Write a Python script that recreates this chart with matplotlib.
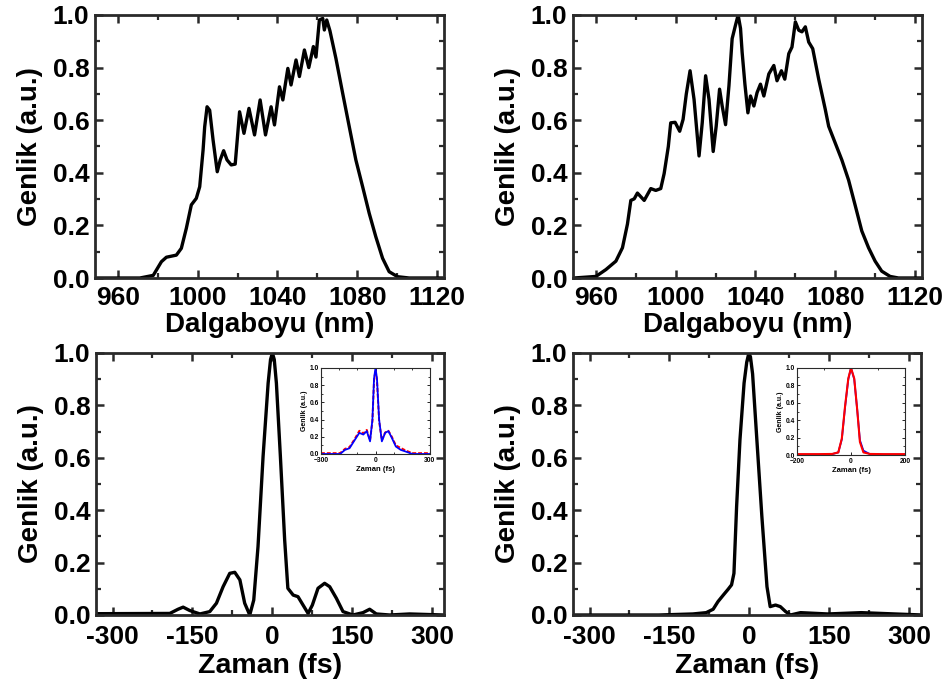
import numpy as np
import matplotlib
matplotlib.use("Agg")
import matplotlib.pyplot as plt
from matplotlib.ticker import MultipleLocator

plt.rcParams['font.family'] = ['Liberation Sans', 'DejaVu Sans']
plt.rcParams['font.weight'] = 'bold'

# ---------------- data ----------------
spec1_nm = [948, 971, 977.7, 981.8, 984.3, 989.3, 991.8, 994.3, 996.8, 999.3, 1001, 1002.7, 1003.5,
            1004.7, 1006, 1007.7, 1009.8, 1011.3, 1013, 1014.7, 1016.8, 1018.8, 1021, 1023.2, 1025.7,
            1028.5, 1031.3, 1034, 1036.8, 1038.5, 1041, 1042.7, 1045.2, 1046.8, 1049.3, 1051, 1053.5,
            1055.7, 1058, 1059.3, 1061, 1062.7, 1063.5, 1064.7, 1066.3, 1069.3, 1072.7, 1076, 1079.3,
            1082.7, 1086, 1089.3, 1092.7, 1096, 1100.2, 1106, 1123]
spec1_amp = [0, 0, 0.01, 0.062, 0.079, 0.087, 0.113, 0.189, 0.278, 0.303, 0.347, 0.487, 0.575,
             0.651, 0.638, 0.525, 0.404, 0.449, 0.484, 0.449, 0.43, 0.433, 0.632, 0.55, 0.645,
             0.544, 0.677, 0.544, 0.651, 0.582, 0.727, 0.677, 0.797, 0.734, 0.829, 0.766, 0.867,
             0.80, 0.88, 0.84, 0.981, 0.987, 0.943, 0.981, 0.94, 0.835, 0.702, 0.575, 0.449,
             0.347, 0.246, 0.157, 0.075, 0.024, 0.005, 0, 0]

spec2_nm = [949, 960, 965, 970, 973.3, 975.8, 977.5, 979.2, 980.8, 984.2, 987.5, 990, 992.5, 994.2,
            996.3, 997.5, 999.7, 1002, 1003.7, 1005.3, 1007.2, 1009.2, 1011.7, 1013.3, 1015, 1016.7,
            1018.8, 1020.3, 1022, 1023.3, 1025, 1026.7, 1028.3, 1030, 1031.3, 1032.5, 1033.3, 1034.7,
            1036.2, 1037.5, 1039.2, 1040.8, 1042.5, 1044.2, 1046.7, 1049.2, 1050.8, 1053, 1054.7,
            1056.7, 1058.3, 1060, 1061.7, 1063.3, 1065, 1066.7, 1068.7, 1071.7, 1075, 1076.7, 1080,
            1083.3, 1086.7, 1090, 1093.3, 1096.7, 1100, 1103.3, 1107.5, 1111.7, 1124]
spec2_amp = [0, 0.006, 0.032, 0.064, 0.115, 0.205, 0.295, 0.301, 0.323, 0.295, 0.34, 0.333, 0.34, 0.397,
             0.5, 0.59, 0.592, 0.558, 0.603, 0.699, 0.788, 0.679, 0.464, 0.59, 0.769, 0.679,
             0.481, 0.577, 0.718, 0.654, 0.583, 0.731, 0.91, 0.962, 1.0, 0.949, 0.859, 0.737,
             0.628, 0.692, 0.654, 0.705, 0.737, 0.692, 0.776, 0.808, 0.75, 0.788, 0.756,
             0.853, 0.878, 0.974, 0.942, 0.936, 0.955, 0.897, 0.872, 0.756, 0.641, 0.577, 0.513,
             0.449, 0.372, 0.276, 0.179, 0.115, 0.064, 0.026, 0.006, 0, 0]

pulse1_t = [-330, -192.5, -177, -167.5, -155, -136, -117.5, -105, -92.5, -80, -70.6, -61, -52, -42.5,
            -35, -27, -17.5, -8, -3.5, 0, 3.5, 7.5, 15, 23, 29, 39, 48, 57.5, 67, 75, 85.6, 98, 107.5,
            120, 132.5, 151, 170, 182.5, 195, 220, 257.5, 322]
pulse1_amp = [0.005, 0.006, 0.022, 0.03, 0.017, 0.004, 0.013, 0.045, 0.108, 0.159, 0.163, 0.134, 0.045, 0.0,
              0.057, 0.261, 0.605, 0.885, 0.975, 1.0, 0.975, 0.885, 0.605, 0.287, 0.102, 0.076, 0.07, 0.038,
              0.006, 0.038, 0.102, 0.121, 0.108, 0.064, 0.013, 0, 0.009, 0.022, 0.004, 0, 0.004, 0]

pulse2_t = [-334, -170, -106, -81, -68, -59, -49, -40, -33.5, -29, -24, -17.7, -10, -5, -1, 2, 6, 14,
            23.4, 33, 39, 49, 58, 68, 77, 96, 147, 210, 273, 325]
pulse2_amp = [0, 0, 0.004, 0.009, 0.022, 0.051, 0.076, 0.098, 0.115, 0.159, 0.414, 0.669, 0.885, 0.965,
              1.0, 0.985, 0.92, 0.669, 0.376, 0.108, 0.032, 0.038, 0.032, 0.013, 0, 0.009, 0.004, 0.009,
              0.004, 0]

inset1_t = [-300, -287, -195, -168, -143, -113, -89, -67, -48, -30, -17, -8, 0, 8, 20, 35, 53, 71, 90,
            112, 139, 167, 203, 287, 300]
inset1_blue = [0, 0, 0.0, 0.048, 0.067, 0.167, 0.246, 0.226, 0.266, 0.147, 0.40, 0.88, 1.0, 0.88, 0.40,
               0.147, 0.246, 0.266, 0.187, 0.087, 0.048, 0.028, 0, 0, 0]
inset1_red = [0.01, 0.01, 0.01, 0.06, 0.08, 0.18, 0.27, 0.24, 0.28, 0.16, 0.38, 0.86, 0.97, 0.86, 0.38,
              0.16, 0.25, 0.27, 0.2, 0.1, 0.07, 0.04, 0.01, 0.01, 0.01]

inset2_t = [-200, -120, -70, -47, -34, -22, -10, 0, 12, 23, 33, 46, 70, 120, 200]
inset2_blue = [0.005, 0.005, 0.01, 0.03, 0.18, 0.55, 0.87, 1.0, 0.87, 0.52, 0.17, 0.05, 0.01, 0.005, 0.005]
inset2_red = [0.01, 0.01, 0.012, 0.03, 0.19, 0.56, 0.88, 1.0, 0.88, 0.52, 0.15, 0.03, 0.012, 0.01, 0.01]

spec_ticks = [960, 1000, 1040, 1080, 1120]
time_ticks = [-300, -150, 0, 150, 300]
y_ticks = [0.0, 0.2, 0.4, 0.6, 0.8, 1.0]

# ---------------- figure ----------------
fig = plt.figure(figsize=(9.52, 6.86), dpi=100)
W, H = 952, 686

def rect(l, t, r, b):
    return [l / W, 1 - b / H, (r - l) / W, (b - t) / H]

FS_TICK = 19
FS_LAB = 20
SPINE = '#2a2a2a'

def style(ax, xmaj, xmin, fs=FS_TICK, lw=2.0, ml=6, mn=3.5, pad=5):
    for s in ax.spines.values():
        s.set_linewidth(lw)
        s.set_color(SPINE)
    ax.xaxis.set_major_locator(MultipleLocator(xmaj))
    ax.xaxis.set_minor_locator(MultipleLocator(xmin))
    ax.yaxis.set_major_locator(MultipleLocator(0.2))
    ax.yaxis.set_minor_locator(MultipleLocator(0.1))
    ax.tick_params(which='both', direction='in', top=True, right=True, color=SPINE)
    ax.tick_params(which='major', length=ml, width=lw * 0.9, labelsize=fs, pad=pad)
    ax.tick_params(which='minor', length=mn, width=lw * 0.8)

ax1 = fig.add_axes(rect(95, 15, 444, 278))
ax2 = fig.add_axes(rect(573, 15, 922, 278))
ax3 = fig.add_axes(rect(96, 353, 444, 615))
ax4 = fig.add_axes(rect(573, 353, 921, 615))

LW = 2.4
for ax, x, y in ((ax1, spec1_nm, spec1_amp), (ax2, spec2_nm, spec2_amp),
                 (ax3, pulse1_t, pulse1_amp), (ax4, pulse2_t, pulse2_amp)):
    ax.plot(x, y, color='black', lw=LW, solid_joinstyle='round', solid_capstyle='round')

for ax in (ax1, ax2):
    ax.set_xlim(948.5, 1123.5)
    ax.set_ylim(0, 1.0)
    style(ax, 40, 20, pad=6)
    ax.set_xticks(spec_ticks)
    ax.set_xticklabels([str(v) for v in spec_ticks], fontweight='bold')
    ax.set_xlabel('Dalgaboyu (nm)', fontsize=FS_LAB, fontweight='bold', labelpad=1)

for ax in (ax3, ax4):
    ax.set_xlim(-331, 322)
    ax.set_ylim(0, 1.0)
    style(ax, 150, 75, pad=7)
    ax.set_xticks(time_ticks)
    ax.set_xticklabels([str(v) for v in time_ticks], fontweight='bold')
    ax.set_xlabel('Zaman (fs)', fontsize=FS_LAB + 0.5, fontweight='bold', labelpad=3)

for ax in (ax1, ax2, ax3, ax4):
    ax.set_yticks(y_ticks)
    ax.set_yticklabels(['%.1f' % v for v in y_ticks], fontweight='bold')
    ax.tick_params(axis='y', which='major', pad=4)
    ax.set_ylabel('Genlik (a.u.)', fontsize=FS_LAB, fontweight='bold', labelpad=7)

# ---------------- insets ----------------
in1 = fig.add_axes(rect(321, 368, 430, 454))
in1.plot(inset1_t, inset1_red, color='red', lw=1.4, ls=(0, (2, 1)))
in1.plot(inset1_t, inset1_blue, color='blue', lw=1.3)
in1.set_xlim(-300, 300)
in1.set_ylim(0, 1.0)
style(in1, 300, 100, fs=4.8, lw=0.8, ml=2.5, mn=1.5, pad=1.5)
in1.tick_params(axis='x', which='major', pad=2.5)
in1.set_yticks(y_ticks)
in1.set_yticklabels(['%.1f' % v for v in y_ticks])
in1.set_xticks([-300, 0, 300])
in1.set_xlabel('Zaman (fs)', fontsize=5.5, fontweight='bold', labelpad=1)
in1.set_ylabel('Genlik (a.u.)', fontsize=5, fontweight='bold', labelpad=1)

in2 = fig.add_axes(rect(797, 368, 905, 455))
in2.plot(inset2_t, inset2_blue, color='blue', lw=1.3)
in2.plot(inset2_t, inset2_red, color='red', lw=1.5)
in2.set_xlim(-200, 200)
in2.set_ylim(0, 1.0)
style(in2, 200, 100, fs=4.8, lw=0.8, ml=2.5, mn=1.5, pad=1.5)
in2.tick_params(axis='x', which='major', pad=2.5)
in2.set_yticks(y_ticks)
in2.set_yticklabels(['%.1f' % v for v in y_ticks])
in2.set_xticks([-200, 0, 200])
in2.set_xlabel('Zaman (fs)', fontsize=5.5, fontweight='bold', labelpad=1)
in2.set_ylabel('Genlik (a.u.)', fontsize=5, fontweight='bold', labelpad=1)

fig.savefig('out.png', dpi=100)
